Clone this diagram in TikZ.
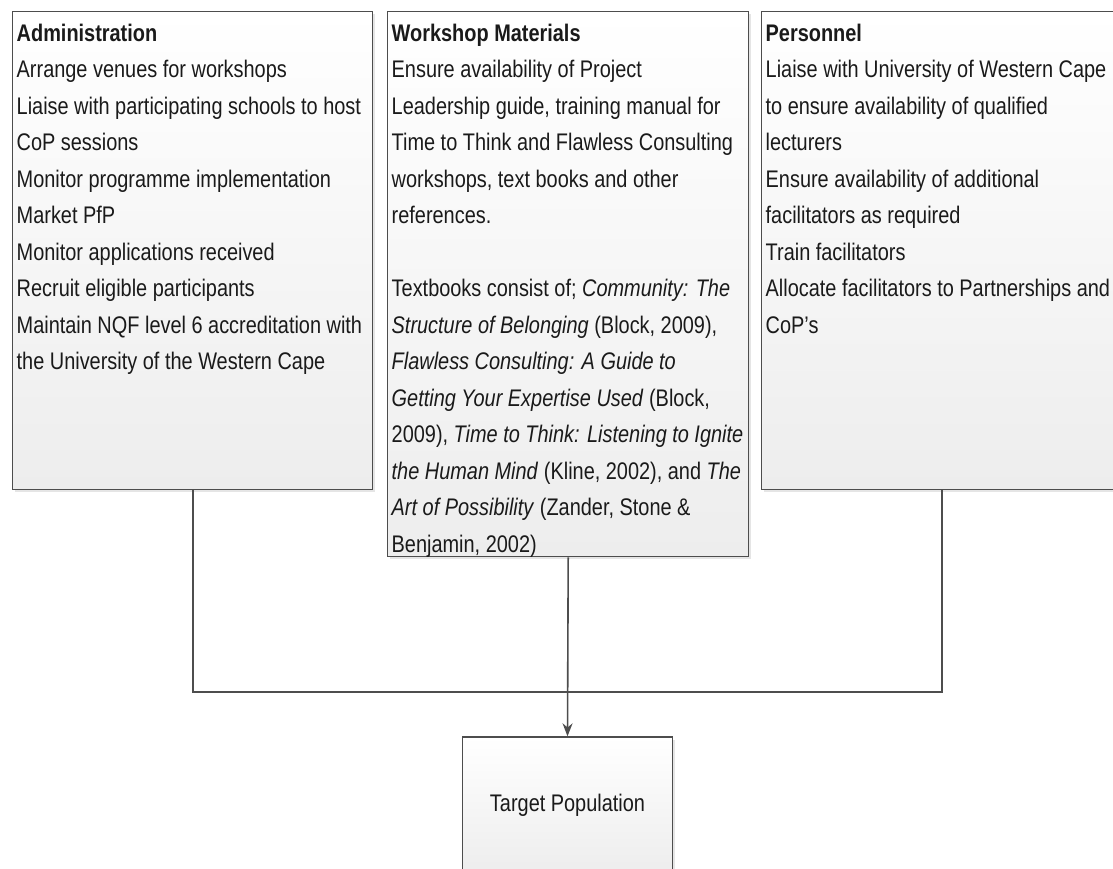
\documentclass[tikz,border=0pt]{standalone}
\usepackage{fontspec}
\setmainfont{Liberation Sans}[FakeStretch=0.83]
\usetikzlibrary{arrows.meta,shadows}
\definecolor{edgegray}{HTML}{4D4D4D}
\definecolor{txtgray}{HTML}{1A1A1A}
\definecolor{fillbot}{HTML}{EDEDED}
\tikzset{
  panel/.style={draw=edgegray, line width=1.4pt, top color=white, bottom color=fillbot,
    anchor=north west, inner xsep=4pt, inner ysep=12pt, text=txtgray,
    drop shadow={shadow xshift=2.5pt, shadow yshift=-2.5pt, opacity=0.2},
    font=\fontsize{24}{36.5}\selectfont},
  goalbox/.style={draw=edgegray, line width=1.4pt, top color=white, bottom color=fillbot,
    minimum width=210pt, minimum height=136pt, inner sep=0pt, text=txtgray,
    drop shadow={shadow xshift=2.5pt, shadow yshift=-2.5pt, opacity=0.2},
    font=\fontsize{24}{36.5}\selectfont},
  wire/.style={draw=edgegray, line width=1.6pt},
  tip/.style={-{Stealth[length=13pt,width=10pt]}}
}
\begin{document}
\begin{tikzpicture}
\useasboundingbox (0,0) rectangle (1113pt,-868pt);
\clip (0,0) rectangle (1113pt,-868pt);
\fill[white] (0,0) rectangle (1113pt,-868pt);

\node[panel] (admin) at (12pt,-11pt) {\parbox[t][454pt][t]{352pt}{\raggedright
\textbf{Administration}\\
Arrange venues for workshops\\
Liaise with participating schools to host\\
CoP sessions\\
Monitor programme implementation\\
Market PfP\\
Monitor applications received\\
Recruit eligible participants\\
Maintain NQF level 6 accreditation with\\
the University of the Western Cape}};

\node[panel] (work) at (387pt,-11pt) {\parbox[t][521pt][t]{353pt}{\raggedright
\textbf{Workshop Materials}\\
Ensure availability of Project\\
Leadership guide, training manual for\\
Time to Think and Flawless Consulting\\
workshops, text books and other\\
references.\\[36.5pt]
Textbooks consist of; \textit{Community: The}\\
\textit{Structure of Belonging} (Block, 2009),\\
\textit{Flawless Consulting: A Guide to}\\
\textit{Getting Your Expertise Used} (Block,\\
2009), \textit{Time to Think: Listening to Ignite}\\
\textit{the Human Mind} (Kline, 2002), and \textit{The}\\
\textit{Art of Possibility} (Zander, Stone \&\\
Benjamin, 2002)}};

\node[panel] (pers) at (761pt,-11pt) {\parbox[t][454pt][t]{352pt}{\raggedright
\textbf{Personnel}\\
Liaise with University of Western Cape\\
to ensure availability of qualified\\
lecturers\\
Ensure availability of additional\\
facilitators as required\\
Train facilitators\\
Allocate facilitators to Partnerships and\\
CoP’s}};

\node[goalbox] (target) at (567.5pt,-805pt) {Target Population};

\coordinate (hub) at (567.5pt,-692pt);
\draw[wire] (admin.south) |- (hub) -| (pers.south);
\draw[wire,tip] (work.south) -- (target.north);
\end{tikzpicture}
\end{document}
